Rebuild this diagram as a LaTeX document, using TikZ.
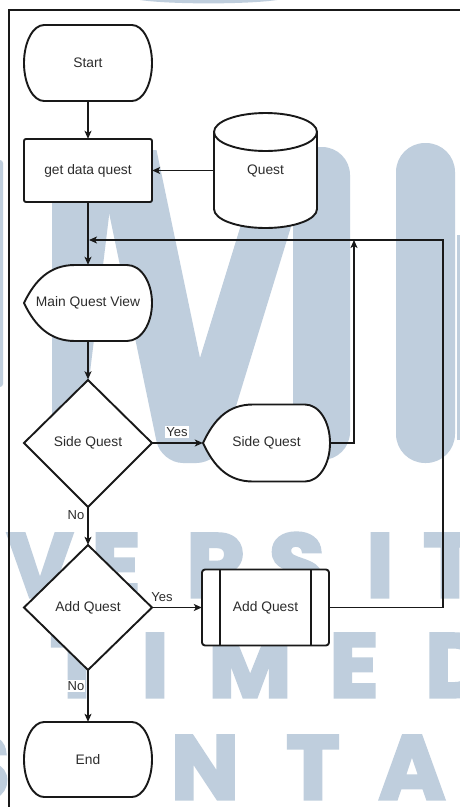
\documentclass[tikz,border=0pt]{standalone}
\usepackage{fontspec}
\setmainfont{Liberation Sans}
\newfontfamily\wmfont{Poppins}[FakeBold=3.5]
\usetikzlibrary{arrows.meta}
\definecolor{wm}{RGB}{191,206,221}
\definecolor{ink}{RGB}{25,25,25}
\definecolor{txt}{RGB}{45,45,45}
\begin{document}
\begin{tikzpicture}[x=1pt,y=-1pt,
  outline/.style={draw=ink, line width=1.9pt, fill=white, line join=round},
  sharpoutline/.style={outline, line join=miter},
  flow/.style={draw=ink, line width=1.2pt, -{Stealth[length=8pt,width=7pt,inset=2pt]}},
  holder/.style={draw=none, inner sep=0pt, text=txt, font=\fontsize{13.8}{16}\selectfont, align=center},
  lbl/.style={fill=white, inner sep=1pt, text=txt, font=\fontsize{13}{15}\selectfont},
  wmtext/.style={text=wm, inner sep=0pt, anchor=base, font=\wmfont\bfseries\fontsize{90}{90}\selectfont}]

\useasboundingbox (0,0) rectangle (460,807);
\fill[white] (0,0) rectangle (460,807);

% ---- background logo ----
\fill[wm] (140,0) .. controls (170,4.5) and (247,4.5) .. (277,0) -- cycle;
\fill[wm, rounded corners=3pt] (-40,160) rectangle (3,387);
\fill[wm, rounded corners=20pt] (52,150) -- (117,150) -- (79,463) -- (52,463) -- cycle;
\fill[wm] (96,150) -- (156.5,150) -- (200,358) -- (264,150) -- (314.5,150)
  [rounded corners=22pt] -- (218.6,463) -- (161,463) [sharp corners] -- cycle;
\fill[wm, rounded corners=28pt] (293,147) rectangle (350,460);
\fill[wm, rounded corners=29pt] (396,143) rectangle (455,463);
\fill[wm] (457,235) rectangle (461,440);

% ---- background lettering ----
\foreach \ch/\cx in {V/40, E/116, R/216, S/297, I/380, T/450}
  \node[wmtext] at (\cx,597) {\ch};
\foreach \ch/\cx in {T/77, I/155, M/250, E/354, D/458}
  \node[wmtext] at (\cx,697) {\ch};
\foreach \ch/\cx in {S/-18, N/205, T/313, A/412}
  \node[wmtext] at (\cx,799) {\ch};

% ---- frame ----
\draw[ink, line width=2pt] (9,807) -- (9,10) -- (460,10);

% ---- Start ----
\path[outline] (44,25) -- (132,25) .. controls (143,25) and (152,42) .. (152,63)
  .. controls (152,84) and (143,101) .. (132,101) -- (44,101)
  .. controls (33,101) and (24,84) .. (24,63) .. controls (24,42) and (33,25) .. (44,25) -- cycle;
\node[holder, minimum width=128pt, minimum height=76pt] (start) at (88,63) {Start};

% ---- get data quest ----
\path[outline, rounded corners=2pt] (24,139) rectangle (152,202);
\node[holder, minimum width=128pt, minimum height=63pt] (getdata) at (88,170.5) {get data quest};

% ---- Quest store ----
\path[outline] (214,132) -- (214,209) .. controls (214,219.5) and (237.1,228) .. (265.5,228)
  .. controls (293.9,228) and (317,219.5) .. (317,209) -- (317,132)
  .. controls (317,121.5) and (293.9,113) .. (265.5,113)
  .. controls (237.1,113) and (214,121.5) .. (214,132) -- cycle;
\draw[ink, line width=1.9pt] (214,132) .. controls (214,142.5) and (237.1,151) .. (265.5,151)
  .. controls (293.9,151) and (317,142.5) .. (317,132);
\node[holder, minimum width=103pt, minimum height=115pt] (quest) at (265.5,170.5) {Quest};

% ---- Main Quest View ----
\path[outline] (24,303) .. controls (35,280) and (50,265) .. (75,265) -- (127,265)
  .. controls (141,265) and (152,282) .. (152,303) .. controls (152,324) and (141,341) .. (127,341)
  -- (75,341) .. controls (50,341) and (35,326) .. (24,303) -- cycle;
\node[holder, minimum width=128pt, minimum height=76pt] (mqv) at (88,303) {Main Quest View};

% ---- decision: Side Quest ----
\path[sharpoutline] (88,380) -- (152,443) -- (88,507) -- (24,443) -- cycle;
\node[holder, minimum width=128pt, minimum height=127pt] (dside) at (88,443) {Side Quest};

% ---- Side Quest view ----
\path[outline] (203,443) .. controls (214,419.5) and (228,404.5) .. (253,404.5) -- (305,404.5)
  .. controls (319,404.5) and (330,421.5) .. (330,443) .. controls (330,464.5) and (319,481.5) .. (305,481.5)
  -- (253,481.5) .. controls (228,481.5) and (214,466.5) .. (203,443) -- cycle;
\node[holder, minimum width=127pt, minimum height=77pt] (sq) at (266.5,443) {Side Quest};

% ---- decision: Add Quest ----
\path[sharpoutline] (88,545) -- (152,607.5) -- (88,670) -- (24,607.5) -- cycle;
\node[holder, minimum width=128pt, minimum height=125pt] (dadd) at (88,607.5) {Add Quest};

% ---- Add Quest subprocess ----
\path[outline, rounded corners=3pt] (202,569.5) rectangle (329,645.5);
\draw[ink, line width=1.9pt] (220,569.5) -- (220,645.5) (311,569.5) -- (311,645.5);
\node[holder, minimum width=127pt, minimum height=76pt] (addq) at (265.5,607.5) {Add Quest};

% ---- End ----
\path[outline] (44,722) -- (132,722) .. controls (143,722) and (152,738.8) .. (152,759.5)
  .. controls (152,780.2) and (143,797) .. (132,797) -- (44,797)
  .. controls (33,797) and (24,780.2) .. (24,759.5) .. controls (24,738.8) and (33,722) .. (44,722) -- cycle;
\node[holder, minimum width=128pt, minimum height=75pt] (end) at (88,759.5) {End};

% ---- connectors ----
\coordinate (upR) at (354,240);
\coordinate (loopR) at (443,240);
\coordinate (join) at (89,240);

\draw[flow] (start.south) -- (getdata.north);
\draw[flow] (quest.west) -- (getdata.east);
\draw[flow] (getdata.south) -- (mqv.north);
\draw[flow] (mqv.south) -- (dside.north);
\draw[flow] (dside.east) -- (sq.west);
\draw[flow] (dside.south) -- (dadd.north);
\draw[flow] (dadd.east) -- (addq.west);
\draw[flow] (dadd.south) -- (end.north);
\draw[flow] (sq.east) -| (upR);
\draw[flow] (addq.east) -| (loopR) -- (join);

\node[lbl] (yes1) at (177,432) {Yes};
\node[lbl] (no1) at (76,515) {No};
\node[lbl] (yes2) at (162,597) {Yes};
\node[lbl] (no2) at (76,686) {No};
\end{tikzpicture}
\end{document}
